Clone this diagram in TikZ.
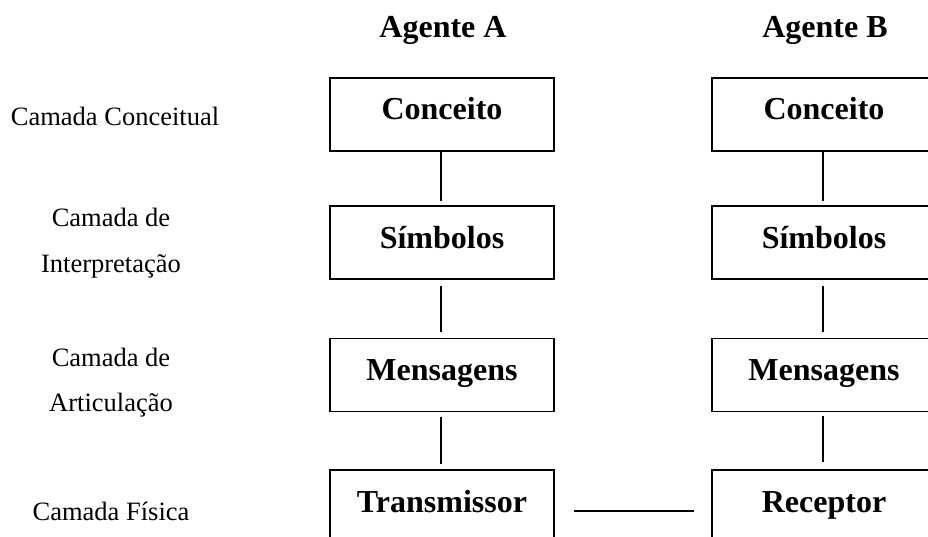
\documentclass[tikz,border=0pt]{standalone}
\usepackage{fontspec}
\setmainfont{Liberation Serif}
\begin{document}
\begin{tikzpicture}[x=1pt,y=-1pt,
  layerbox/.style={draw,line width=1.8pt,minimum width=224pt,minimum height=73pt,inner sep=0pt,
    text height=20pt,text depth=9pt,font=\fontsize{32}{36}\selectfont\bfseries},
  agentlabel/.style={anchor=base,inner sep=0pt,font=\fontsize{32}{36}\selectfont\bfseries},
  layerlabel/.style={anchor=base,inner sep=0pt,font=\fontsize{26.5}{30}\selectfont},
  link/.style={line width=1.8pt}]
\useasboundingbox (0,0) rectangle (928,537);
\clip (0,0) rectangle (928,537);
% agents
\node[agentlabel] (agA) at (443,38) {Agente A};
\node[agentlabel] (agB) at (825,38) {Agente B};
% layer labels
\node[layerlabel] (lc) at (115,126) {Camada Conceitual};
\node[layerlabel] (li1) at (111,226) {Camada de};
\node[layerlabel] (li2) at (111,272) {Interpretação};
\node[layerlabel] (la1) at (111,366) {Camada de};
\node[layerlabel] (la2) at (111,411) {Articulação};
\node[layerlabel] (lf) at (111,520) {Camada Física};
% boxes agent A
\node[layerbox] (A1) at (442,114.5) {Conceito};
\node[layerbox] (A2) at (442,242.5) {Símbolos};
\node[layerbox] (A3) at (442,375) {Mensagens};
\node[layerbox] (A4) at (442,506.5) {Transmissor};
% boxes agent B
\node[layerbox] (B1) at (824,114.5) {Conceito};
\node[layerbox] (B2) at (824,242.5) {Símbolos};
\node[layerbox] (B3) at (824,375) {Mensagens};
\node[layerbox] (B4) at (824,506.5) {Receptor};
% vertical links
\draw[link,shorten >=4pt] ([xshift=-1pt]A1.south) -- ([xshift=-1pt]A2.north);
\draw[link,shorten <=6pt,shorten >=6pt] ([xshift=-1pt]A2.south) -- ([xshift=-1pt]A3.north);
\draw[link,shorten <=5pt,shorten >=5pt] ([xshift=-1pt]A3.south) -- ([xshift=-1pt]A4.north);
\draw[link,shorten >=4pt] ([xshift=-1pt]B1.south) -- ([xshift=-1pt]B2.north);
\draw[link,shorten <=6pt,shorten >=6pt] ([xshift=-1pt]B2.south) -- ([xshift=-1pt]B3.north);
\draw[link,shorten <=4pt,shorten >=7pt] ([xshift=-1pt]B3.south) -- ([xshift=-1pt]B4.north);
% horizontal link
\draw[link,shorten <=19pt,shorten >=17pt] ([yshift=-4.5pt]A4.east) -- ([yshift=-4.5pt]B4.west);
\end{tikzpicture}
\end{document}
